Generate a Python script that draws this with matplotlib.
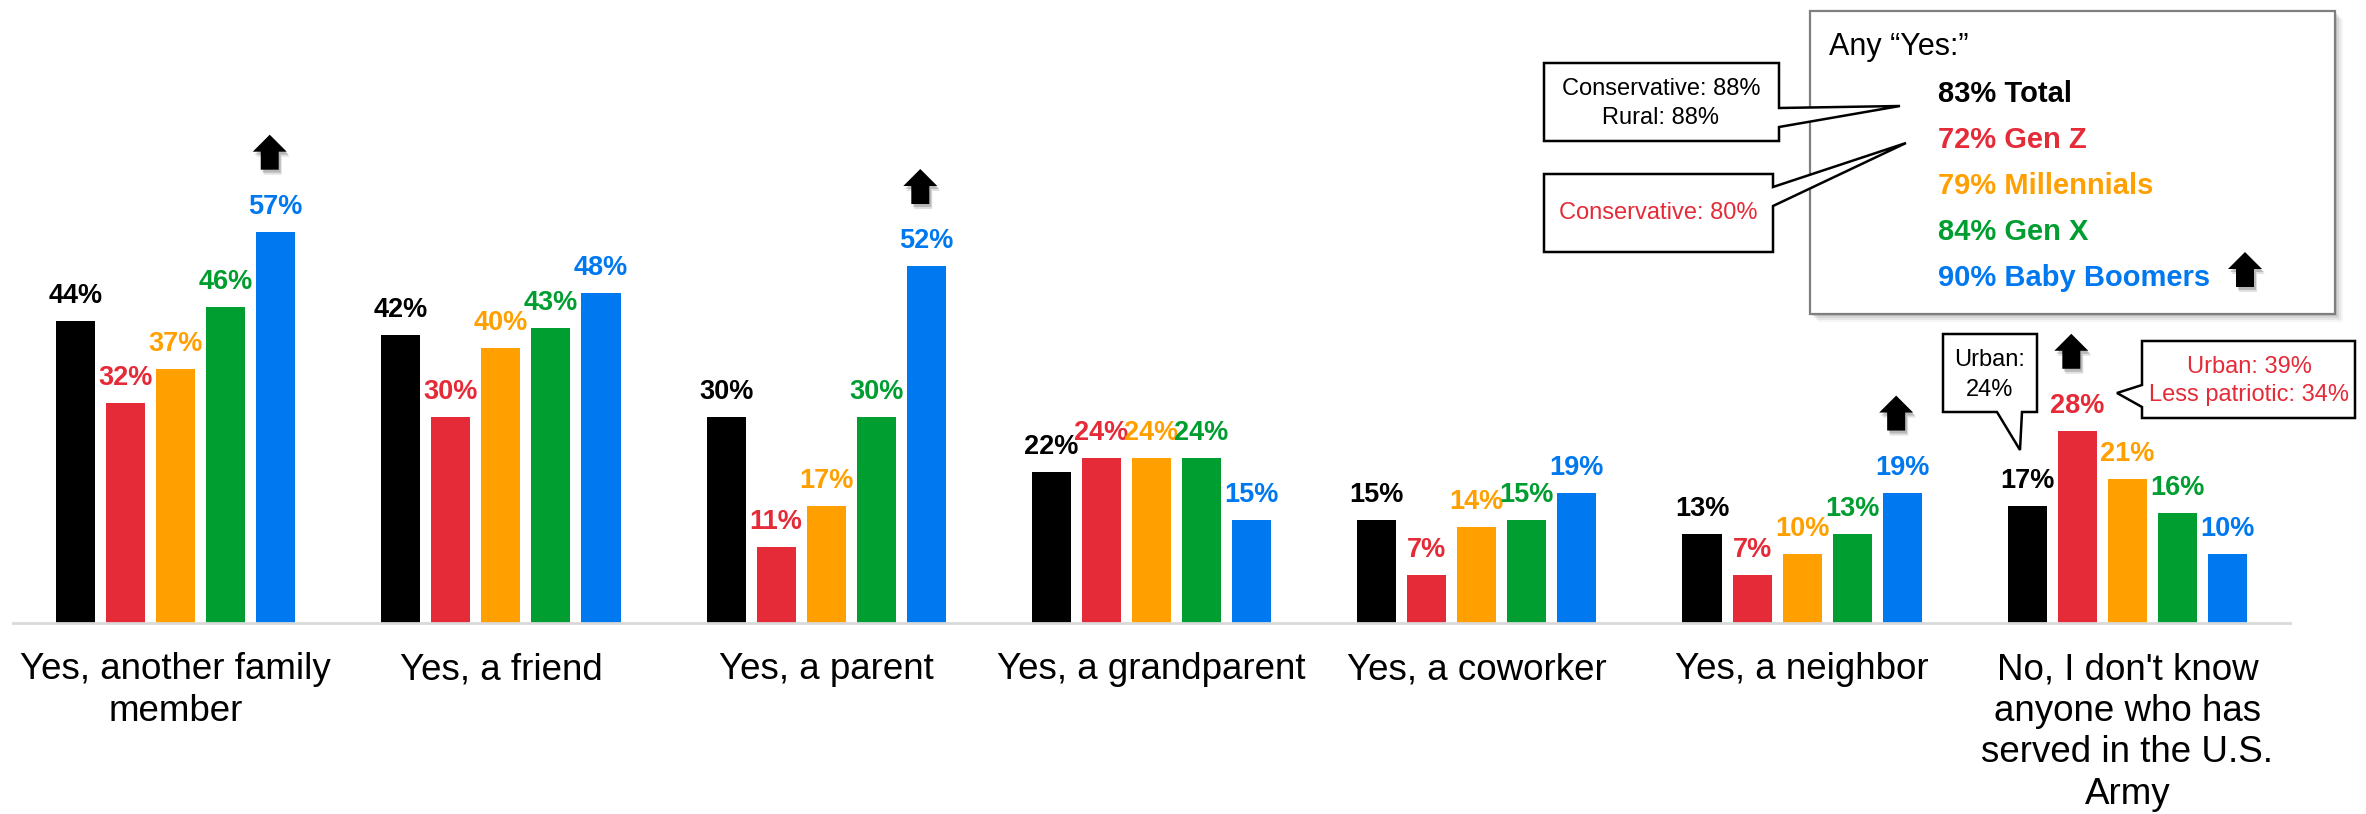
import matplotlib
matplotlib.use('Agg')
import matplotlib.pyplot as plt
import matplotlib.transforms as mtransforms
from matplotlib.patches import Polygon, Rectangle
import numpy as np

plt.rcParams['font.family'] = ['Liberation Sans', 'DejaVu Sans']

# Данные
categories = ['Yes, another family\nmember', 'Yes, a friend', 'Yes, a parent',
              'Yes, a grandparent', 'Yes, a coworker', 'Yes, a neighbor',
              "No, I don't know\nanyone who has\nserved in the U.S.\nArmy"]
series_names = ['Total', 'Gen Z', 'Millennials', 'Gen X', 'Baby Boomers']
total = [44, 42, 30, 22, 15, 13, 17]
gen_z = [32, 30, 11, 24, 7, 7, 28]
millennials = [37, 40, 17, 24, 14, 10, 21]
gen_x = [46, 43, 30, 24, 15, 13, 16]
boomers = [57, 48, 52, 15, 19, 19, 10]
colors = ['#000000', '#E52A38', '#FFA000', '#009D30', '#0078EF']

any_yes = [83, 72, 79, 84, 90]
arrow_marks = [(0, 4), (2, 4), (5, 4), (6, 1)]  # (группа, серия) со стрелкой вверх

W, H = 2366, 814
fig = plt.figure(figsize=(W / 100, H / 100), dpi=100)


def px(x, y):
    # пиксели картинки (от левого верхнего угла) -> доли фигуры
    return (x / W, 1 - y / H)


ax = fig.add_axes([13 / W, 1 - 623 / H, (2290 - 13) / W, 623 / H])
ax.set_xlim(-0.5, 6.5)
ax.set_ylim(0, 90.75)

data = [total, gen_z, millennials, gen_x, boomers]
x = np.arange(len(categories))
slot = 1 / 6.5
for j, vals in enumerate(data):
    xs = x + (j - 2) * slot
    ax.bar(xs, vals, width=0.12, color=colors[j], zorder=2)
    for xi, v in zip(xs, vals):
        ax.annotate(f'{v}%', (xi, v), xytext=(0, 13), textcoords='offset points',
                    ha='center', va='baseline', fontsize=19.5, fontweight='bold',
                    color=colors[j])

for i, lab in enumerate(categories):
    ax.annotate(lab, (i, 0), xytext=(0, -21), textcoords='offset points',
                ha='center', va='top', fontsize=26.5, linespacing=1.24)

for s in ['top', 'left', 'right']:
    ax.spines[s].set_visible(False)
ax.spines['bottom'].set_color('#D9D9D9')
ax.spines['bottom'].set_linewidth(2)
ax.set_xticks([])
ax.set_yticks([])

# Стрелки вверх
shape = [(-9, 0), (9, 0), (9, 18), (17, 18), (0, 35), (-17, 18), (-9, 18)]


def up_arrow(anchor_trans, dx=0, dy=0, z=5):
    for off, col, a, zz in [((3, -5), '#AAAAAA', 0.35, z - 0.5), ((2, -3), '#888888', 0.45, z - 0.5),
                            ((0, 0), 'black', 1, z)]:
        verts = [((sx + dx + off[0]) / 100, (sy + dy + off[1]) / 100) for sx, sy in shape]
        fig.add_artist(Polygon(verts, closed=True, facecolor=col, edgecolor='none',
                               alpha=a, zorder=zz,
                               transform=fig.dpi_scale_trans + anchor_trans))


for g, s in arrow_marks:
    up_arrow(mtransforms.ScaledTranslation(x[g] + (s - 2) * slot, data[s][g], ax.transData),
             dx=-6, dy=62)

# Рамка "Any Yes"
for k, a in [(8, 0.08), (6, 0.12), (4, 0.18), (2, 0.25)]:
    fig.add_artist(Rectangle(px(1810 + k, 314 + k), 525 / W, 303 / H, transform=fig.transFigure,
                             facecolor='#888888', edgecolor='none', alpha=a, zorder=6))
fig.add_artist(Rectangle(px(1810, 314), 525 / W, 303 / H, transform=fig.transFigure,
                         facecolor='white', edgecolor='#7F7F7F', linewidth=1.6, zorder=7))
fig.text(*px(1829, 47), 'Any \u201cYes:\u201d', fontsize=22, va='center', ha='left', zorder=8)
for i, (name, v) in enumerate(zip(series_names, any_yes)):
    fig.text(*px(1938, 94 + 46 * i), f'{v}% {name}', fontsize=21, fontweight='bold',
             color=colors[i], va='center', ha='left', zorder=8)
up_arrow(mtransforms.ScaledTranslation(*px(2245, 287), fig.transFigure), z=8)


# Выноски
def callout(points, lines, color, cx, ys):
    fig.add_artist(Polygon([px(a, b) for a, b in points], closed=True, transform=fig.transFigure,
                           facecolor='white', edgecolor='black', linewidth=1.8, zorder=9))
    for t, yy in zip(lines, ys):
        fig.text(*px(cx, yy), t, fontsize=17, color=color, ha='center', va='center', zorder=10)


callout([(1544, 63), (1779, 63), (1779, 108), (1900, 106), (1779, 127), (1779, 141), (1544, 141)],
        ['Conservative: 88%', 'Rural: 88%'], 'black', 1661, [89, 118])
callout([(1544, 174), (1773, 174), (1773, 187), (1906, 143), (1773, 206), (1773, 252), (1544, 252)],
        ['Conservative: 80%'], colors[1], 1658, [213])
callout([(1943, 334), (2037, 334), (2037, 412), (2022, 412), (2020, 450), (1997, 412), (1943, 412)],
        ['Urban:', '24%'], 'black', 1990, [360, 390])
callout([(2142, 341), (2355, 341), (2355, 418), (2142, 418), (2142, 407), (2117, 393), (2142, 385)],
        ['Urban: 39%', 'Less patriotic: 34%'], colors[1], 2249, [367, 395])

fig.savefig('out.png', dpi=100)
